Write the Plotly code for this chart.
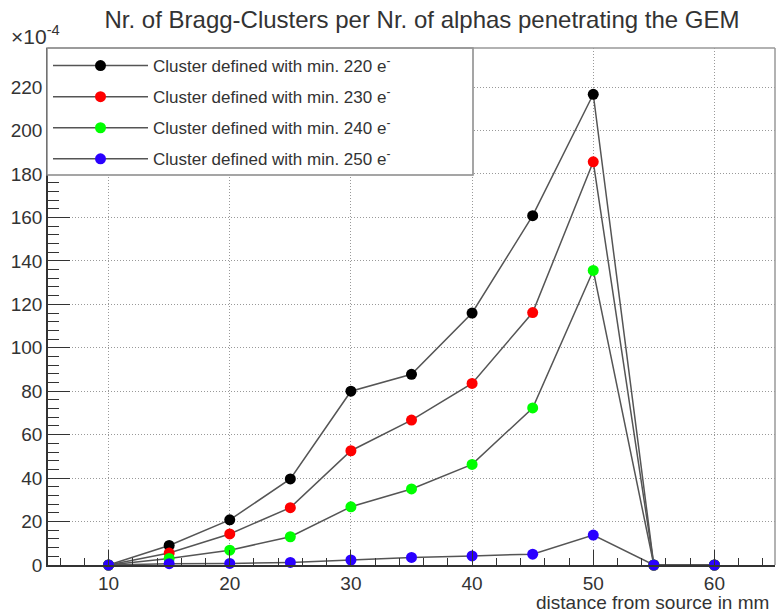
import plotly.graph_objects as go

# Bragg-cluster rate (in units of 1e-4) versus source distance, per cluster threshold
distance_mm = [10, 15, 20, 25, 30, 35, 40, 45, 50, 55, 60]
clusters_220 = [0, 9, 20.8, 39.6, 80, 87.8, 116, 160.8, 216.7, 0, 0]
clusters_230 = [0, 5.5, 14.3, 26.4, 52.6, 66.7, 83.6, 116.2, 185.6, 0, 0]
clusters_240 = [0, 3, 6.8, 13, 26.8, 35, 46.3, 72.3, 135.6, 0, 0]
clusters_250 = [0, 0.6, 0.7, 1.2, 2.3, 3.5, 4.2, 5, 13.8, 0, 0]

series_names = [
    "Cluster defined with min. 220 e<sup>-</sup>",
    "Cluster defined with min. 230 e<sup>-</sup>",
    "Cluster defined with min. 240 e<sup>-</sup>",
    "Cluster defined with min. 250 e<sup>-</sup>",
]
series_values = [clusters_220, clusters_230, clusters_240, clusters_250]
marker_colors = ["#000000", "#ff0000", "#00ff00", "#2a00ff"]

y_ticks = list(range(0, 221, 20))
x_ticks = [10, 20, 30, 40, 50, 60]

FONT = "Liberation Sans, Arial, Helvetica, sans-serif"
TEXT = "#333333"

fig = go.Figure()
for i, (name, vals, col) in enumerate(zip(series_names, series_values, marker_colors)):
    fig.add_trace(go.Scatter(
        x=distance_mm, y=vals, name=name, mode="lines+markers",
        line=dict(color="#555555", width=1.5),
        marker=dict(color=col, size=11, line=dict(width=0)),
        cliponaxis=False, legendgroup=f"g{i}",
    ))

W, H = 777, 615
ML, MR, MT, MB = 48, 2, 48, 50
pw, ph = W - ML - MR, H - MT - MB

def px_x(px):
    return (px - ML) / pw

def px_y(py):
    return 1 - (py - MT) / ph

fig.update_layout(
    width=W, height=H,
    margin=dict(l=ML, r=MR, t=MT, b=MB),
    paper_bgcolor="white", plot_bgcolor="white",
    font=dict(family=FONT, color=TEXT),
    title=dict(
        text="Nr. of Bragg-Clusters per Nr. of alphas penetrating the GEM",
        x=422 / W, xanchor="center", xref="container",
        y=1 - 20 / H, yanchor="middle", yref="container",
        font=dict(size=24, color=TEXT, family=FONT),
    ),
    xaxis=dict(
        range=[5, 65], tickvals=x_ticks, ticks="inside", ticklen=15, tickwidth=1.2,
        tickcolor="#333", showline=True, linecolor="#333", linewidth=1.5,
        showgrid=True, gridcolor="#999", griddash="1px,2px", gridwidth=1,
        zeroline=False, tickfont=dict(size=19, color=TEXT),
        minor=dict(dtick=2, tick0=0, ticks="inside", ticklen=7, tickcolor="#333", showgrid=False),
    ),
    yaxis=dict(
        range=[0, 238], tickvals=y_ticks, ticks="inside", ticklen=22, tickwidth=1.2,
        tickcolor="#333", showline=True, linecolor="#333", linewidth=1.5,
        showgrid=True, gridcolor="#999", griddash="1px,2px", gridwidth=1,
        zeroline=False, tickfont=dict(size=19, color=TEXT),
        minor=dict(dtick=4, tick0=0, ticks="inside", ticklen=11, tickcolor="#333", showgrid=False),
    ),
    legend=dict(
        x=0, y=1, xanchor="left", yanchor="top",
        bgcolor="rgba(0,0,0,0)", borderwidth=0,
        itemwidth=95, tracegroupgap=6,
        font=dict(size=17, color=TEXT, family=FONT),
    ),
    showlegend=True,
    shapes=[
        # legend frame
        dict(type="rect", xref="paper", yref="paper",
             x0=px_x(47), x1=px_x(473), y0=px_y(175), y1=1,
             fillcolor="white", line=dict(color="#888", width=1.5), layer="above"),
        # top and right frame edges
        dict(type="line", xref="paper", yref="paper", x0=0, x1=1, y0=1, y1=1,
             line=dict(color="#999", width=1.5)),
        dict(type="line", xref="paper", yref="paper", x0=1, x1=1, y0=0, y1=1,
             line=dict(color="#999", width=1.5)),
    ],
    annotations=[
        dict(text="×10<sup>-4</sup>", xref="paper", yref="paper",
             x=px_x(9), y=px_y(35), xanchor="left", yanchor="middle",
             showarrow=False, font=dict(size=21, color=TEXT, family=FONT)),
        dict(text="distance from source in mm", xref="paper", yref="paper",
             x=px_x(771), y=px_y(602), xanchor="right", yanchor="middle",
             showarrow=False, font=dict(size=19, color=TEXT, family=FONT)),
    ],
)

fig.write_html("out.html")
